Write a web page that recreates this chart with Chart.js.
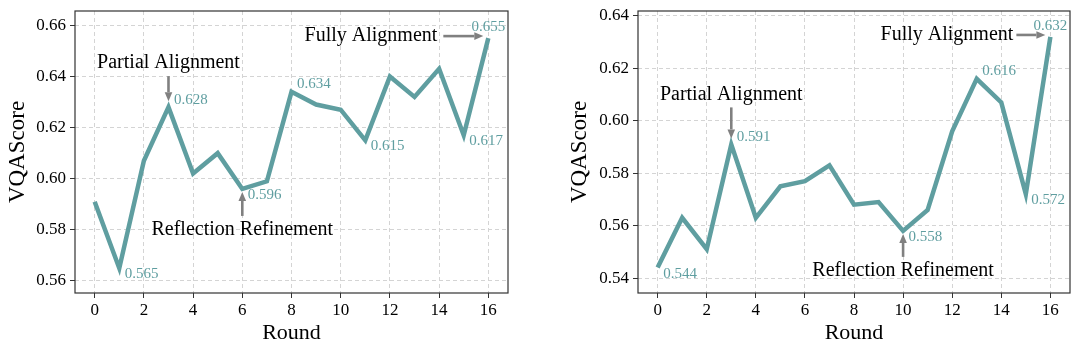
<!DOCTYPE html>
<html>
<head>
<meta charset="utf-8">
<script src="https://cdn.jsdelivr.net/npm/chart.js@4.4.1/dist/chart.umd.min.js"></script>
<style>
  html, body { margin: 0; padding: 0; background: #fff; }
  .wrap { display: flex; width: 1080px; height: 354px; }
  canvas { display: block; }
</style>
</head>
<body>
<div class="wrap">
  <canvas id="leftChart" width="540" height="354"></canvas>
  <canvas id="rightChart" width="540" height="354"></canvas>
</div>
<script>
// Data
const rounds = [0, 1, 2, 3, 4, 5, 6, 7, 8, 9, 10, 11, 12, 13, 14, 15, 16];
const leftScores = [0.591, 0.565, 0.607, 0.628, 0.602, 0.610, 0.596, 0.599, 0.634,
  0.629, 0.627, 0.615, 0.640, 0.632, 0.643, 0.617, 0.655];
const rightScores = [0.544, 0.563, 0.551, 0.591, 0.563, 0.575, 0.577, 0.583, 0.568,
  0.569, 0.558, 0.566, 0.596, 0.616, 0.607, 0.572, 0.632];
const roundTicks = [0, 2, 4, 6, 8, 10, 12, 14, 16];
const leftScoreTicks = [0.56, 0.58, 0.60, 0.62, 0.64, 0.66];
const rightScoreTicks = [0.54, 0.56, 0.58, 0.60, 0.62, 0.64];
const leftLabelled = [1, 3, 6, 8, 11, 15, 16];
const rightLabelled = [0, 3, 10, 13, 15, 16];
const stageNames = ["Partial Alignment", "Reflection Refinement", "Fully Alignment"];
const leftStageRounds = [3, 6, 16];
const rightStageRounds = [3, 10, 16];

// Styles
const teal = "#5f9ea0";
const serif = "'Liberation Serif', 'Times New Roman', serif";
const stageSides = ["above", "below", "left"];

function drawArrow(ctx, x0, y0, x1, y1) {
  const ang = Math.atan2(y1 - y0, x1 - x0);
  const head = 9, half = 3.8;
  const bx = x1 - head * Math.cos(ang);
  const by = y1 - head * Math.sin(ang);
  ctx.save();
  ctx.strokeStyle = "#808080";
  ctx.fillStyle = "#808080";
  ctx.lineWidth = 2.6;
  ctx.beginPath();
  ctx.moveTo(x0, y0);
  ctx.lineTo(bx, by);
  ctx.stroke();
  ctx.beginPath();
  ctx.moveTo(x1, y1);
  ctx.lineTo(bx - half * Math.sin(ang), by + half * Math.cos(ang));
  ctx.lineTo(bx + half * Math.sin(ang), by - half * Math.cos(ang));
  ctx.closePath();
  ctx.fill();
  ctx.restore();
}

const framePlugin = {
  id: "frame",
  beforeDatasetsDraw(chart) {
    const { ctx, chartArea: a } = chart;
    ctx.save();
    ctx.strokeStyle = "#333";
    ctx.lineWidth = 1.2;
    ctx.strokeRect(a.left, a.top, a.right - a.left, a.bottom - a.top);
    ctx.restore();
  }
};

const notesPlugin = {
  id: "notes",
  afterDatasetsDraw(chart, args, opts) {
    const ctx = chart.ctx;
    const xs = chart.scales.x, ys = chart.scales.y;
    const vals = opts.values;
    const px = (i) => xs.getPixelForValue(rounds[i]);
    const py = (i) => ys.getPixelForValue(vals[i]);

    // value labels
    ctx.save();
    ctx.font = "15px " + serif;
    ctx.fillStyle = teal;
    ctx.textBaseline = "middle";
    opts.labelled.forEach((i) => {
      const txt = vals[i].toFixed(3);
      const x = px(i), y = py(i);
      if (i === vals.length - 1) {
        ctx.textAlign = "center";
        ctx.fillText(txt, x, y - 11);
        return;
      }
      const prev = i > 0 ? vals[i - 1] : vals[i + 1];
      const next = i < vals.length - 1 ? vals[i + 1] : vals[i - 1];
      const isLow = vals[i] <= prev && vals[i] <= next;
      ctx.textAlign = "left";
      ctx.fillText(txt, x + 5.5, isLow ? y + 6 : y - 7.5);
    });
    ctx.restore();

    // stage annotations
    const g = opts.geom;
    ctx.save();
    ctx.font = "20px " + serif;
    ctx.fillStyle = "#000";
    opts.stages.forEach((i, k) => {
      const x = px(i), y = py(i);
      const side = stageSides[k];
      if (side === "above") {
        drawArrow(ctx, x, y - g.upTail, x, y - 6);
        ctx.textAlign = "center";
        ctx.textBaseline = "alphabetic";
        ctx.fillText(stageNames[k], x, y - g.upText);
      } else if (side === "below") {
        drawArrow(ctx, x, y + g.downTail, x, y + 3);
        ctx.textAlign = "center";
        ctx.textBaseline = "alphabetic";
        ctx.fillText(stageNames[k], x, y + g.downText);
      } else {
        drawArrow(ctx, x - g.leftTail, y - 2, x - 5, y - 2);
        ctx.textAlign = "right";
        ctx.textBaseline = "middle";
        ctx.fillText(stageNames[k], x - g.leftText, y - 2);
      }
    });
    ctx.restore();
  }
};

function makeChart(id, scores, scoreTicks, yMin, yMax, yWidth, titlePad, rightPad, labelled, stages, geom) {
  const points = rounds.map((r, i) => ({ x: r, y: scores[i] }));
  const gridStyle = {
    color: "#d4d4d4",
    lineWidth: 1,
    tickColor: "#333",
    tickLength: 5,
    tickBorderDash: []
  };
  const borderStyle = { display: false, dash: [4, 3] };
  return new Chart(document.getElementById(id), {
    type: "line",
    data: {
      datasets: [{
        data: points,
        borderColor: teal,
        borderWidth: 4.5,
        pointRadius: 0,
        tension: 0,
        fill: false,
        borderJoinStyle: "miter"
      }]
    },
    options: {
      responsive: false,
      animation: false,
      layout: { padding: { top: 11, right: rightPad, left: 0, bottom: 0 } },
      plugins: {
        legend: { display: false },
        tooltip: { enabled: false },
        notes: { values: scores, labelled: labelled, stages: stages, geom: geom }
      },
      scales: {
        x: {
          type: "linear",
          min: -0.8,
          max: 16.8,
          afterBuildTicks: (s) => { s.ticks = roundTicks.map((v) => ({ value: v })); },
          afterFit: (s) => { s.height = 61; s.paddingLeft = 0; s.paddingRight = 0; },
          grid: gridStyle,
          border: borderStyle,
          ticks: { color: "#000", font: { family: serif, size: 17 }, padding: 2, maxRotation: 0 },
          title: { display: true, text: "Round", color: "#000", font: { family: serif, size: 22 }, padding: { top: 0, bottom: 8 } }
        },
        y: {
          min: yMin,
          max: yMax,
          afterBuildTicks: (s) => { s.ticks = scoreTicks.map((v) => ({ value: v })); },
          afterFit: (s) => { s.width = yWidth; s.paddingTop = 0; s.paddingBottom = 0; },
          grid: gridStyle,
          border: borderStyle,
          ticks: {
            color: "#000",
            font: { family: serif, size: 17 },
            padding: 4,
            callback: (v) => v.toFixed(2)
          },
          title: { display: true, text: "VQAScore", color: "#000", font: { family: serif, size: 23 }, padding: { top: titlePad, bottom: 0 } }
        }
      }
    },
    plugins: [framePlugin, notesPlugin]
  });
}

makeChart("leftChart", leftScores, leftScoreTicks, 0.5553, 0.6656, 75, 4, 32,
  leftLabelled, leftStageRounds,
  { upTail: 31, upText: 39, downTail: 27, downText: 46, leftTail: 45, leftText: 51 });
makeChart("rightChart", rightScores, rightScoreTicks, 0.5343, 0.6419, 98, 26, 10,
  rightLabelled, rightStageRounds,
  { upTail: 37, upText: 44, downTail: 26, downText: 45, leftTail: 34, leftText: 37 });
</script>
</body>
</html>
